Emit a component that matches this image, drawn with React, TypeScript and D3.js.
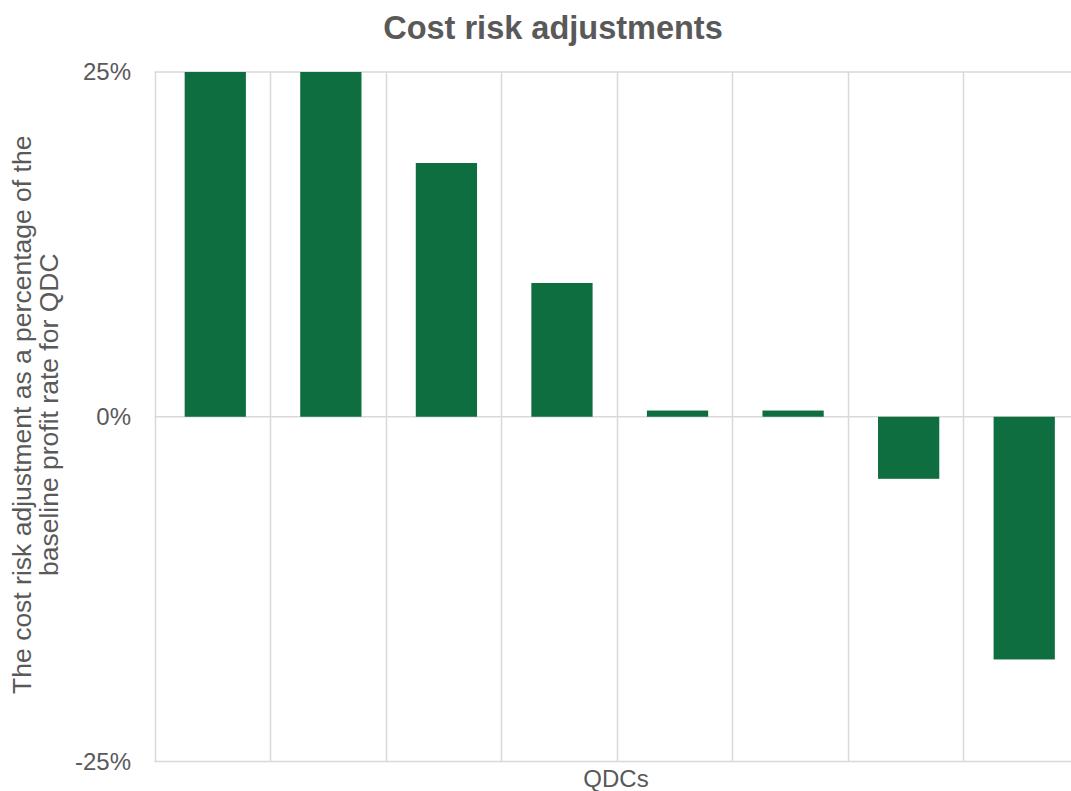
import React from "react";
import * as d3 from "d3";

const categories = ["QDC 1", "QDC 2", "QDC 3", "QDC 4", "QDC 5", "QDC 6", "QDC 7", "QDC 8"];
const adjustments = [25, 25, 18.4, 9.7, 0.45, 0.45, -4.5, -17.6];
const yTicks = [-25, 0, 25];

const W = 1071;
const H = 791;
const plot = { left: 154.5, right: 1079, top: 72, bottom: 761.5 };
const barColor = "#0e6e40";
const gridColor = "#d9d9d9";
const textColor = "#595959";
const font = "Arial, 'Liberation Sans', Helvetica, sans-serif";

export default function App() {
  const x = d3.scaleBand<string>().domain(categories).range([plot.left, plot.right]).padding(0);
  const xBar = d3
    .scaleBand<string>()
    .domain(categories)
    .range([plot.left + 3, plot.right + 3])
    .paddingInner(0.47)
    .paddingOuter(0.235);
  const y = d3.scaleLinear().domain([-25, 25]).range([plot.bottom, plot.top]);

  return (
    <svg
      width={W}
      height={H}
      style={{ position: "absolute", left: 0, top: 0, background: "#fff" }}
      fontFamily={font}
    >
      <defs>
        <clipPath id="plotClip">
          <rect x={plot.left} y={plot.top} width={plot.right - plot.left} height={plot.bottom - plot.top} />
        </clipPath>
      </defs>
      <text x={553} y={39} textAnchor="middle" fontSize={32.5} fontWeight="bold" fill={textColor}>
        Cost risk adjustments
      </text>

      {/* vertical category gridlines */}
      {categories.map((c) => (
        <line
          key={c}
          x1={Math.round(x(c)!) + 0.5}
          x2={Math.round(x(c)!) + 0.5}
          y1={plot.top}
          y2={plot.bottom}
          stroke={gridColor}
          strokeWidth={1.5}
        />
      ))}
      {/* horizontal value gridlines */}
      {yTicks.map((t) => (
        <line
          key={t}
          x1={plot.left}
          x2={plot.right}
          y1={y(t)}
          y2={y(t)}
          stroke={gridColor}
          strokeWidth={1.5}
        />
      ))}

      <g clipPath="url(#plotClip)">
        {categories.map((c, i) => {
          const v = adjustments[i];
          return (
            <rect
              key={c}
              x={xBar(c)}
              width={xBar.bandwidth()}
              y={y(Math.max(v, 0))}
              height={Math.abs(y(v) - y(0))}
              fill={barColor}
            />
          );
        })}
      </g>

      {yTicks.map((t) => (
        <text
          key={t}
          x={131}
          y={y(t)}
          dy="0.35em"
          textAnchor="end"
          fontSize={24}
          fill={textColor}
        >
          {`${t}%`}
        </text>
      ))}

      <text
        transform={`translate(40, ${(plot.top + plot.bottom) / 2 - 2}) rotate(-90)`}
        textAnchor="middle"
        fontSize={26.5}
        fill={textColor}
      >
        <tspan x={0} dy={-9}>The cost risk adjustment as a percentage of the</tspan>
        <tspan x={0} dy={27}>baseline profit rate for QDC</tspan>
      </text>

      <text x={616} y={787} textAnchor="middle" fontSize={24} fill={textColor}>
        QDCs
      </text>
    </svg>
  );
}
